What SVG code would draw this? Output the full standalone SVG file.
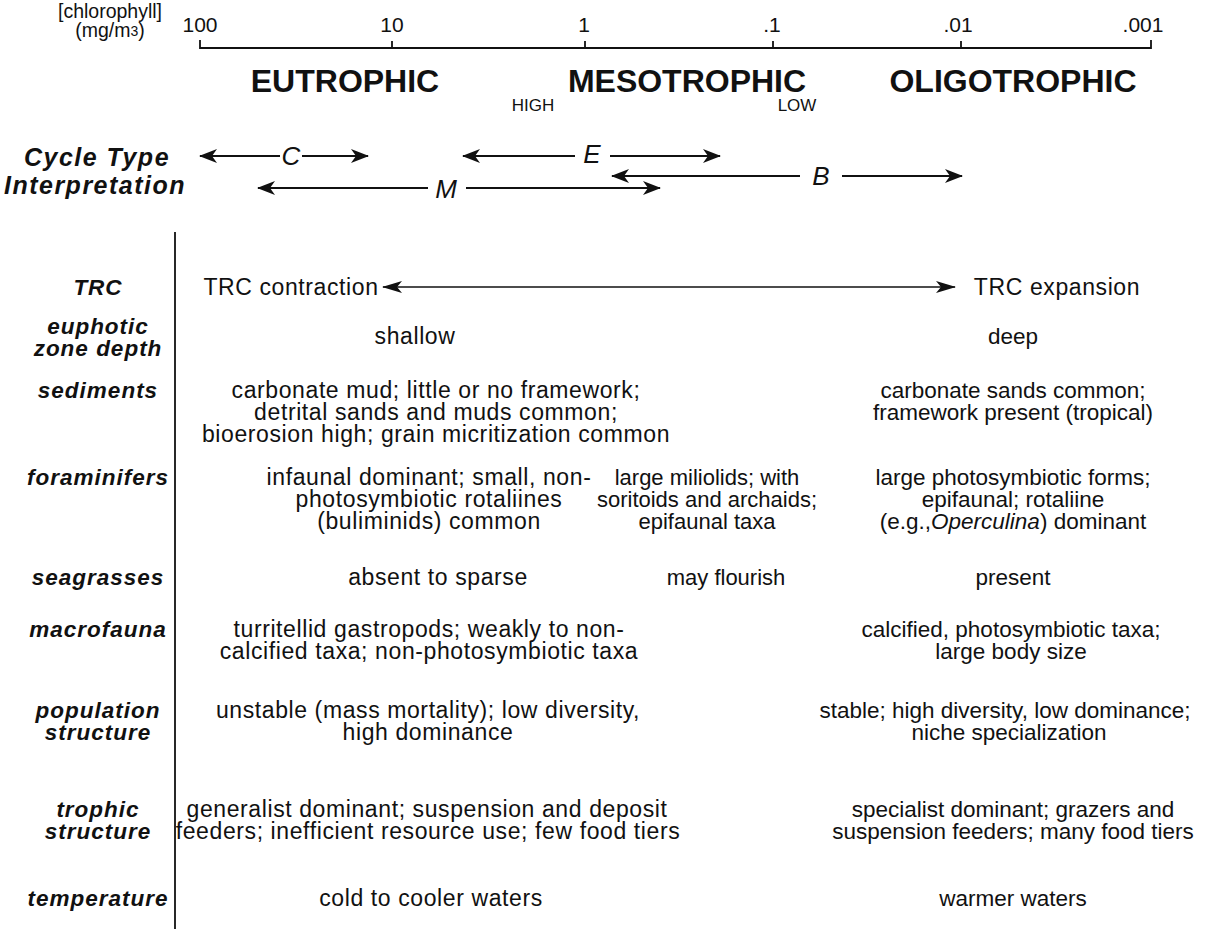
<svg xmlns="http://www.w3.org/2000/svg" width="1224" height="929" viewBox="0 0 1224 929">
<style>
text{font-family:"Liberation Sans",Arial,sans-serif;fill:#111}
.num{font-size:21px;text-anchor:middle}
.zone{font-size:32px;font-weight:bold;text-anchor:middle}
.hl{font-size:17px;text-anchor:middle}
.lab{font-size:22.5px;font-weight:bold;font-style:italic;text-anchor:middle;letter-spacing:1px}
.cl{font-size:25px;font-weight:bold;font-style:italic;text-anchor:middle;letter-spacing:1.5px}
.bl{font-size:23px;text-anchor:middle;letter-spacing:0.6px}
.br{font-size:22.5px;text-anchor:middle}
.bm{font-size:22px;text-anchor:middle}
.cyc{font-size:26px;font-style:italic;text-anchor:middle}
.ln{stroke:#111;stroke-width:1.8;fill:none}
.thin{stroke:#111;stroke-width:1.4;fill:none}
</style>
<defs>
<marker id="ah" viewBox="0 0 18 14" refX="17" refY="7" markerWidth="18" markerHeight="14" markerUnits="userSpaceOnUse" orient="auto-start-reverse">
<path d="M0,0 L18,7 L0,14 L5,7 Z" fill="#111"/>
</marker>
<marker id="ah2" viewBox="0 0 20 12" refX="19" refY="6" markerWidth="20" markerHeight="12" markerUnits="userSpaceOnUse" orient="auto-start-reverse">
<path d="M0,0 L20,6 L0,12 L5,6 Z" fill="#111"/>
</marker>
</defs>

<g id="axis">
<text x="110" y="18" font-size="19.5" text-anchor="middle">[chlorophyll]</text>
<text x="110" y="37" font-size="19.5" text-anchor="middle">(mg/m<tspan font-size="14" dy="-1">3</tspan><tspan dy="1">)</tspan></text>
<path class="ln" d="M200,40 V48 H1151 V40 M392,48 V41 M585,48 V41 M773,48 V41 M961,48 V41"/>
<text class="num" x="200" y="32">100</text>
<text class="num" x="392" y="32">10</text>
<text class="num" x="584" y="32">1</text>
<text class="num" x="772" y="32">.1</text>
<text class="num" x="958" y="32">.01</text>
<text class="num" x="1143" y="32">.001</text>
</g>

<g id="zones">
<text class="zone" x="345" y="92">EUTROPHIC</text>
<text class="zone" x="687" y="92">MESOTROPHIC</text>
<text class="zone" x="1013" y="92">OLIGOTROPHIC</text>
<text class="hl" x="533" y="111">HIGH</text>
<text class="hl" x="797" y="111">LOW</text>
</g>

<g id="cycle-label">
<text class="cl" x="97" y="166">Cycle Type</text>
<text class="cl" x="95" y="194">Interpretation</text>
</g>

<g id="connectors">
<path class="ln" d="M200,156 H280" marker-start="url(#ah)"/>
<path class="ln" d="M302,156 H368" marker-end="url(#ah)"/>
<path class="ln" d="M463,156 H575" marker-start="url(#ah)"/>
<path class="ln" d="M610,156 H720" marker-end="url(#ah)"/>
<path class="ln" d="M612,176 H800" marker-start="url(#ah)"/>
<path class="ln" d="M842,176 H962" marker-end="url(#ah)"/>
<path class="ln" d="M258,188 H428" marker-start="url(#ah)"/>
<path class="ln" d="M466,188 H660" marker-end="url(#ah)"/>
<path class="thin" d="M383,287 H955" marker-start="url(#ah2)" marker-end="url(#ah2)"/>
<path class="ln" d="M175,232 V929"/>
</g>

<g id="cycle-letters">
<text class="cyc" x="291" y="165">C</text>
<text class="cyc" x="592" y="163">E</text>
<text class="cyc" x="821" y="185">B</text>
<text class="cyc" x="446" y="198">M</text>
</g>

<g id="row-trc">
<text class="lab" x="98" y="295">TRC</text>
<text class="bl" x="291" y="295">TRC contraction</text>
<text class="bl" x="1057" y="295">TRC expansion</text>
</g>

<g id="row-euphotic">
<text class="lab" x="98" y="334">euphotic</text>
<text class="lab" x="98" y="356">zone depth</text>
<text class="bl" x="415" y="344">shallow</text>
<text class="br" x="1013" y="344">deep</text>
</g>

<g id="row-sediments">
<text class="lab" x="98" y="398">sediments</text>
<text class="bl" x="436" y="398">carbonate mud; little or no framework;</text>
<text class="bl" x="436" y="420">detrital sands and muds common;</text>
<text class="bl" x="436" y="442">bioerosion high; grain micritization common</text>
<text class="br" x="1013" y="398">carbonate sands common;</text>
<text class="br" x="1013" y="420">framework present (tropical)</text>
</g>

<g id="row-foraminifers">
<text class="lab" x="98" y="485">foraminifers</text>
<text class="bl" x="429" y="485">infaunal dominant; small, non-</text>
<text class="bl" x="429" y="507">photosymbiotic rotaliines</text>
<text class="bl" x="429" y="529">(buliminids) common</text>
<text class="bm" x="707" y="485">large miliolids; with</text>
<text class="bm" x="707" y="507">soritoids and archaids;</text>
<text class="bm" x="707" y="529">epifaunal taxa</text>
<text class="br" x="1013" y="485">large photosymbiotic forms;</text>
<text class="br" x="1013" y="507">epifaunal; rotaliine</text>
<text class="br" x="1013" y="529">(e.g.,<tspan font-style="italic">Operculina</tspan>) dominant</text>
</g>

<g id="row-seagrasses">
<text class="lab" x="98" y="585">seagrasses</text>
<text class="bl" x="438" y="585">absent to sparse</text>
<text class="bm" x="726" y="585">may flourish</text>
<text class="br" x="1013" y="585">present</text>
</g>

<g id="row-macrofauna">
<text class="lab" x="98" y="637">macrofauna</text>
<text class="bl" x="429" y="637">turritellid gastropods; weakly to non-</text>
<text class="bl" x="429" y="659">calcified taxa; non-photosymbiotic taxa</text>
<text class="br" x="1011" y="637">calcified, photosymbiotic taxa;</text>
<text class="br" x="1011" y="659">large body size</text>
</g>

<g id="row-population">
<text class="lab" x="98" y="718">population</text>
<text class="lab" x="98" y="740">structure</text>
<text class="bl" x="428" y="718">unstable (mass mortality); low diversity,</text>
<text class="bl" x="428" y="740">high dominance</text>
<text class="br" x="1005" y="718">stable; high diversity, low dominance;</text>
<text class="br" x="1009" y="740">niche specialization</text>
</g>

<g id="row-trophic">
<text class="lab" x="98" y="817">trophic</text>
<text class="lab" x="98" y="839">structure</text>
<text class="bl" x="427" y="817">generalist dominant; suspension and deposit</text>
<text class="bl" x="428" y="839">feeders; inefficient resource use; few food tiers</text>
<text class="br" x="1013" y="817">specialist dominant; grazers and</text>
<text class="br" x="1013" y="839">suspension feeders; many food tiers</text>
</g>

<g id="row-temperature">
<text class="lab" x="98" y="906">temperature</text>
<text class="bl" x="431" y="906">cold to cooler waters</text>
<text class="br" x="1013" y="906">warmer waters</text>
</g>
</svg>
